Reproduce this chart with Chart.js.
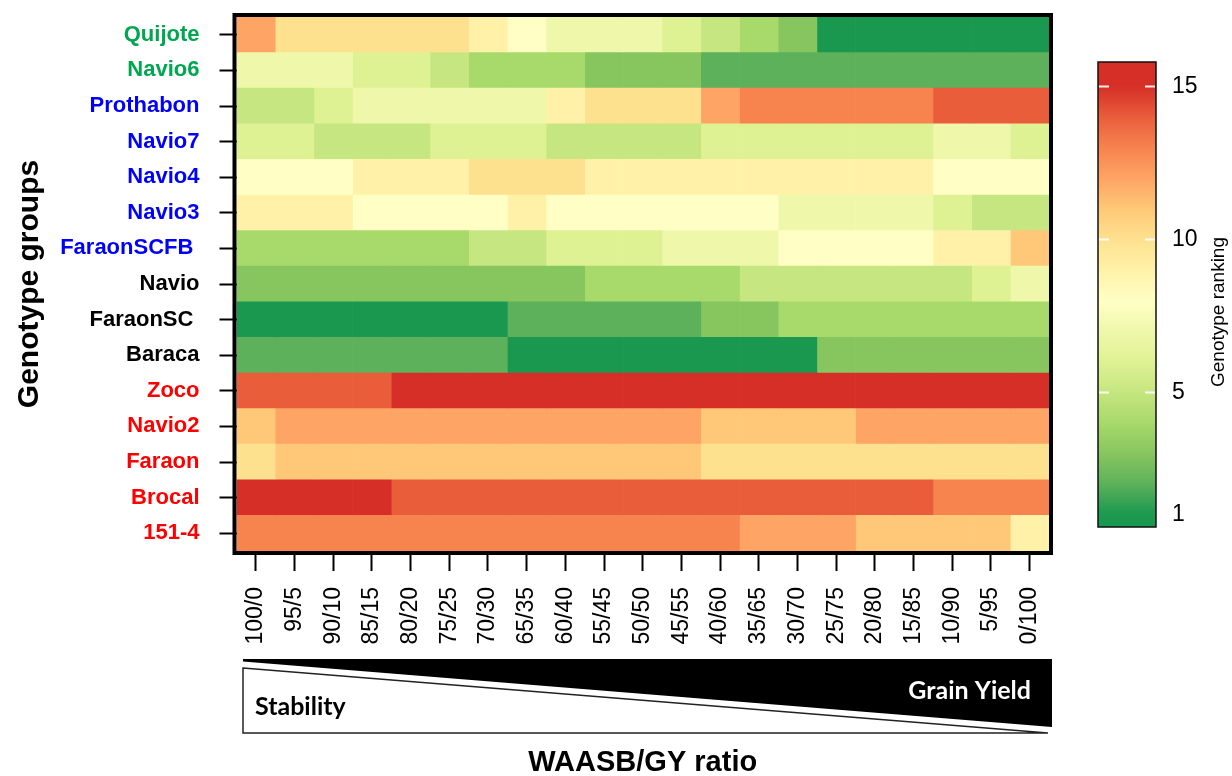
<!DOCTYPE html>
<html>
<head>
<meta charset="utf-8">
<script src="https://cdn.jsdelivr.net/npm/chart.js@4.4.1/dist/chart.umd.min.js"></script>
<style>
  body { margin: 0; background: #fff; }
  #wrap { width: 1232px; height: 776px; position: relative; }
</style>
</head>
<body>
<div id="wrap"><canvas id="heat"></canvas></div>
<script>
// Genotypes from top to bottom, with the colour of their group
const genotypes = ['Quijote', 'Navio6', 'Prothabon', 'Navio7', 'Navio4', 'Navio3', 'FaraonSCFB ',
  'Navio', 'FaraonSC ', 'Baraca', 'Zoco', 'Navio2', 'Faraon', 'Brocal', '151-4'];
const groupColors = ['#00a650', '#00a650', '#0000ff', '#0000ff', '#0000ff', '#0000ff', '#0000ff',
  '#000000', '#000000', '#000000', '#ff0000', '#ff0000', '#ff0000', '#ff0000', '#ff0000'];

// WAASB/GY weighting ratios (columns)
const ratios = ['100/0', '95/5', '90/10', '85/15', '80/20', '75/25', '70/30', '65/35', '60/40', '55/45',
  '50/50', '45/55', '40/60', '35/65', '30/70', '25/75', '20/80', '15/85', '10/90', '5/95', '0/100'];

// Ranking of every genotype at each ratio (1 = best)
const quijote    = [12, 10, 10, 10, 10, 10,  9,  8,  7,  7,  7,  6,  5,  4,  3,  1,  1,  1,  1,  1,  1];
const navio6     = [ 7,  7,  7,  6,  6,  5,  4,  4,  4,  3,  3,  3,  2,  2,  2,  2,  2,  2,  2,  2,  2];
const prothabon  = [ 5,  5,  6,  7,  7,  7,  7,  7,  9, 10, 10, 10, 12, 13, 13, 13, 13, 13, 14, 14, 14];
const navio7     = [ 6,  6,  5,  5,  5,  6,  6,  6,  5,  5,  5,  5,  6,  6,  6,  6,  6,  6,  7,  7,  6];
const navio4     = [ 8,  8,  8,  9,  9,  9, 10, 10, 10,  9,  9,  9,  9,  9,  9,  9,  9,  9,  8,  8,  8];
const navio3     = [ 9,  9,  9,  8,  8,  8,  8,  9,  8,  8,  8,  8,  8,  8,  7,  7,  7,  7,  6,  5,  5];
const faraonSCFB = [ 4,  4,  4,  4,  4,  4,  5,  5,  6,  6,  6,  7,  7,  7,  8,  8,  8,  8,  9,  9, 11];
const navio      = [ 3,  3,  3,  3,  3,  3,  3,  3,  3,  4,  4,  4,  4,  5,  5,  5,  5,  5,  5,  6,  7];
const faraonSC   = [ 1,  1,  1,  1,  1,  1,  1,  2,  2,  2,  2,  2,  3,  3,  4,  4,  4,  4,  4,  4,  4];
const baraca     = [ 2,  2,  2,  2,  2,  2,  2,  1,  1,  1,  1,  1,  1,  1,  1,  3,  3,  3,  3,  3,  3];
const zoco       = [14, 14, 14, 14, 15, 15, 15, 15, 15, 15, 15, 15, 15, 15, 15, 15, 15, 15, 15, 15, 15];
const navio2     = [11, 12, 12, 12, 12, 12, 12, 12, 12, 12, 12, 12, 11, 11, 11, 11, 12, 12, 12, 12, 12];
const faraon     = [10, 11, 11, 11, 11, 11, 11, 11, 11, 11, 11, 11, 10, 10, 10, 10, 10, 10, 10, 10, 10];
const brocal     = [15, 15, 15, 15, 14, 14, 14, 14, 14, 14, 14, 14, 14, 14, 14, 14, 14, 14, 13, 13, 13];
const g151_4     = [13, 13, 13, 13, 13, 13, 13, 13, 13, 13, 13, 13, 13, 12, 12, 12, 11, 11, 11, 11,  9];

const rankings = [quijote, navio6, prothabon, navio7, navio4, navio3, faraonSCFB,
  navio, faraonSC, baraca, zoco, navio2, faraon, brocal, g151_4];

// colour bar ticks
const legendTicks = [1, 5, 10, 15];

// one colour per rank, green (1) -> yellow -> red (15)
const rankPalette = ['#1a9850', '#5db15a', '#87c65f', '#a8d96b', '#c5e680', '#dff293', '#eff8aa',
  '#ffffc5', '#fff2a8', '#fee18f', '#fec878', '#fea464', '#f7834f', '#e95d3b', '#d62f27'];

function hexToRgb(h) {
  return [parseInt(h.slice(1, 3), 16), parseInt(h.slice(3, 5), 16), parseInt(h.slice(5, 7), 16)];
}

function rankColor(v) {
  const t = Math.min(Math.max(v, 1), rankPalette.length) - 1;
  const i = Math.min(Math.floor(t), rankPalette.length - 2);
  const f = t - i;
  const a = hexToRgb(rankPalette[i]), b = hexToRgb(rankPalette[i + 1]);
  const c = a.map((x, k) => Math.round(x + (b[k] - x) * f));
  return `rgb(${c[0]},${c[1]},${c[2]})`;
}

const FONT = "'Liberation Sans', Arial, sans-serif";
Chart.defaults.font.family = FONT;
Chart.defaults.color = '#000';

// one floating-bar dataset per ratio column
const datasets = ratios.map((r, c) => ({
  label: r,
  data: rankings.map(() => [c, c + 1]),
  backgroundColor: rankings.map(row => rankColor(row[c])),
  borderWidth: 0,
  grouped: false,
  barPercentage: 1,
  categoryPercentage: 1
}));

// black frame, colour bar and the Stability / Grain Yield wedge
const decorations = {
  id: 'decorations',
  afterDatasetsDraw(chart) {
    const {ctx, chartArea: a} = chart;
    ctx.save();
    ctx.strokeStyle = '#000';
    ctx.lineWidth = 4;
    ctx.strokeRect(a.left - 2, a.top - 2, a.right - a.left + 4, a.bottom - a.top + 4);
    ctx.restore();
  },
  afterDraw(chart) {
    const {ctx, chartArea: a} = chart;
    ctx.save();

    // wedge under the x labels
    const wl = a.left + 6.5, wr = a.right + 3;
    ctx.fillStyle = '#000';
    ctx.beginPath();
    ctx.moveTo(wl, 659);
    ctx.lineTo(wr, 659);
    ctx.lineTo(wr, 727);
    ctx.lineTo(wl, 661.5);
    ctx.closePath();
    ctx.fill();

    ctx.strokeStyle = '#222';
    ctx.lineWidth = 1.5;
    ctx.beginPath();
    ctx.moveTo(wl, 668);
    ctx.lineTo(wr - 4, 733);
    ctx.lineTo(wl, 733);
    ctx.closePath();
    ctx.stroke();

    ctx.font = "bold 25px Lato, 'Open Sans', sans-serif";
    ctx.textBaseline = 'alphabetic';
    ctx.fillStyle = '#000';
    ctx.textAlign = 'left';
    ctx.fillText('Stability', wl + 12, 715);
    ctx.fillStyle = '#fff';
    ctx.textAlign = 'right';
    ctx.fillText('Grain Yield', wr - 21, 699);

    // colour bar
    const cbL = 1098, cbR = 1156, cbT = 62, cbB = 527;
    const vMin = 0.6, vMax = 15.8;
    const yOf = v => cbB - (v - vMin) / (vMax - vMin) * (cbB - cbT);
    const grad = ctx.createLinearGradient(0, cbB, 0, cbT);
    for (let s = 0; s <= 60; s++) {
      const v = vMin + (vMax - vMin) * s / 60;
      grad.addColorStop(s / 60, rankColor(v));
    }
    ctx.fillStyle = grad;
    ctx.fillRect(cbL, cbT, cbR - cbL, cbB - cbT);
    ctx.strokeStyle = '#111';
    ctx.lineWidth = 1.5;
    ctx.strokeRect(cbL, cbT, cbR - cbL, cbB - cbT);

    ctx.font = `23px ${FONT}`;
    ctx.textAlign = 'left';
    ctx.textBaseline = 'middle';
    legendTicks.forEach(v => {
      const y = yOf(v);
      if (v !== legendTicks[0]) {
        ctx.strokeStyle = 'rgba(255,255,255,0.9)';
        ctx.lineWidth = 2;
        ctx.beginPath();
        ctx.moveTo(cbL + 1, y); ctx.lineTo(cbL + 11, y);
        ctx.moveTo(cbR - 11, y); ctx.lineTo(cbR - 1, y);
        ctx.stroke();
      }
      ctx.fillStyle = '#000';
      ctx.fillText(String(v), 1172, y);
    });

    ctx.translate(1219, 312);
    ctx.rotate(-Math.PI / 2);
    ctx.textAlign = 'center';
    ctx.font = `19px ${FONT}`;
    ctx.fillText('Genotype ranking', 0, 0);
    ctx.restore();
  }
};

new Chart(document.getElementById('heat'), {
  type: 'bar',
  data: { labels: genotypes, datasets },
  options: {
    indexAxis: 'y',
    responsive: true,
    maintainAspectRatio: false,
    animation: false,
    layout: { padding: { top: 17, right: 183, left: 0, bottom: 0 } },
    plugins: { legend: { display: false }, tooltip: { enabled: false } },
    scales: {
      x: {
        type: 'linear',
        min: 0,
        max: ratios.length,
        afterBuildTicks: s => { s.ticks = ratios.map((_, i) => ({ value: i + 0.5 })); },
        afterFit: s => { s.height = 225; s.paddingLeft = 0; s.paddingRight = 0; },
        ticks: {
          autoSkip: false,
          minRotation: 90,
          maxRotation: 90,
          padding: 16,
          font: { size: 23 },
          callback: (v, i) => ratios[i]
        },
        grid: { drawOnChartArea: false, drawTicks: true, tickLength: 20, tickWidth: 2, tickColor: '#000' },
        border: { display: false },
        title: {
          display: true,
          text: 'WAASB/GY ratio',
          font: { size: 29, weight: 'bold', lineHeight: 1 },
          padding: { top: 0, bottom: -1 }
        }
      },
      y: {
        offset: true,
        afterFit: s => { s.width = 236.5; s.paddingTop = 0; s.paddingBottom = 0; },
        ticks: {
          color: c => groupColors[c.index],
          font: { size: 22, weight: 'bold' },
          padding: 20
        },
        grid: { offset: false, drawOnChartArea: false, drawTicks: true, tickLength: 17, tickWidth: 2, tickColor: '#000' },
        border: { display: false },
        title: {
          display: true,
          text: 'Genotype groups',
          font: { size: 30, weight: 'bold', lineHeight: 1 },
          padding: { top: 15, bottom: 0 }
        }
      }
    }
  },
  plugins: [decorations]
});
</script>
</body>
</html>
